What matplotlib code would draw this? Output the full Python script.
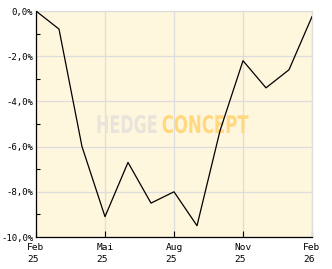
import matplotlib
matplotlib.use("Agg")
import matplotlib.pyplot as plt
from matplotlib.ticker import MultipleLocator, FuncFormatter, FixedLocator
from matplotlib.textpath import TextPath
from matplotlib.patches import PathPatch
from matplotlib.font_manager import FontProperties
from matplotlib.transforms import Affine2D, IdentityTransform

months = ["Feb 25", "Mär 25", "Apr 25", "Mai 25", "Jun 25", "Jul 25", "Aug 25",
          "Sep 25", "Okt 25", "Nov 25", "Dez 25", "Jan 26", "Feb 26"]
values = [0.0, -0.8, -6.0, -9.1, -6.7, -8.5, -8.0, -9.5, -5.3, -2.2, -3.4, -2.6, -0.25]
tick_pos = [0, 3, 6, 9, 12]
tick_labels = ["Feb\n25", "Mai\n25", "Aug\n25", "Nov\n25", "Feb\n26"]

W, H = 332, 269
fig = plt.figure(figsize=(W / 100, H / 100), dpi=100)
fig.patch.set_facecolor("white")
ax = fig.add_axes([36 / W, 32 / H, (312 - 36) / W, (258 - 32) / H])
ax.set_facecolor("#FFF6DE")

x = list(range(len(values)))
ax.plot(x, values, color="black", lw=0.9, zorder=5)

ax.set_xlim(0, 12)
ax.set_ylim(-10, 0)

mono = "DejaVu Sans Mono"
ax.yaxis.set_major_locator(MultipleLocator(2))
ax.yaxis.set_minor_locator(MultipleLocator(1))
ax.yaxis.set_major_formatter(FuncFormatter(lambda v, p: f"{v:.1f}".replace(".", ",").replace("-0,0", "0,0") + "%"))
ax.xaxis.set_major_locator(FixedLocator(tick_pos))
ax.set_xticklabels(tick_labels, multialignment="left", linespacing=1.5)

ax.tick_params(axis="y", which="major", direction="in", length=0, pad=2.0,
               labelsize=6.5, labelfontfamily=mono)
ax.tick_params(axis="y", which="minor", direction="in", length=3, width=0.8, color="black")
ax.tick_params(axis="x", which="major", direction="in", length=4, width=0.8, pad=4,
               labelsize=6.8, labelfontfamily=mono, color="black")

ax.grid(True, which="major", color="#DDDDDD", lw=0.9, zorder=0)
ax.set_axisbelow(True)
for s in ["top", "right"]:
    ax.spines[s].set_color("#DDDDDD")
    ax.spines[s].set_linewidth(0.9)
for s in ["left", "bottom"]:
    ax.spines[s].set_color("black")
    ax.spines[s].set_linewidth(0.9)
    ax.spines[s].set_zorder(6)

# watermark
fp = FontProperties(family="DejaVu Sans", weight="bold")
def wm(text, x0, x1, y0, y1, color):
    tp = TextPath((0, 0), text, size=10, prop=fp)
    bb = tp.get_extents()
    sx = (x1 - x0) / bb.width
    sy = (y1 - y0) / bb.height
    tr = Affine2D().translate(-bb.x0, -bb.y0).scale(sx, sy).translate(x0, H - y1)
    patch = PathPatch(tr.transform_path(tp), facecolor=color, edgecolor="none", zorder=2)
    ax.add_patch(patch)
    patch.set_transform(IdentityTransform())

wm("HEDGE", 97.5, 156.5, 115, 133.3, "#E8E4DA")
wm("CONCEPT", 162.5, 248.5, 115, 133.3, "#FFD880")

fig.savefig("out.png", dpi=100, facecolor="white")
